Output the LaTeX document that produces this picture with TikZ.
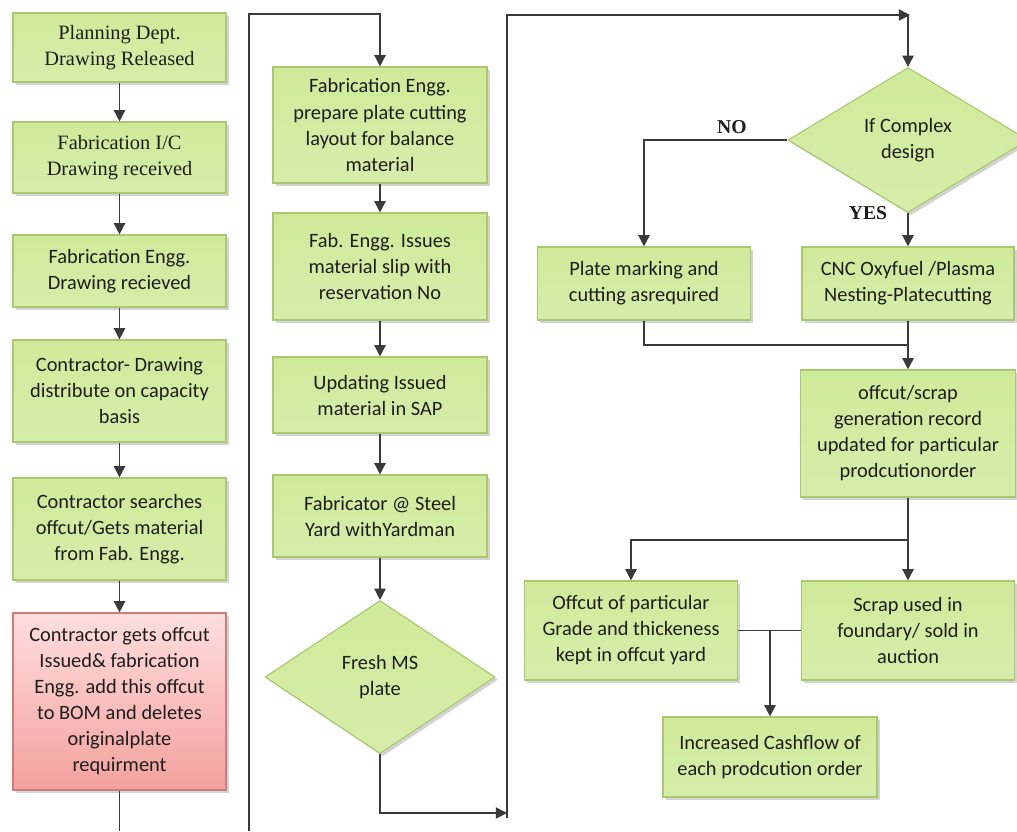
\documentclass[tikz,border=0pt]{standalone}
\usepackage{fontspec}
\setmainfont{Carlito}
\newfontfamily\serifrm{Liberation Serif}
\usetikzlibrary{arrows.meta,shapes.geometric,shadows}
\definecolor{gtop}{HTML}{D0EA9A}
\definecolor{gmid}{HTML}{EAF7D4}
\definecolor{gbot}{HTML}{D6EDAA}
\definecolor{gline}{HTML}{A8C970}
\definecolor{rtop}{HTML}{FFDEDE}
\definecolor{rbot}{HTML}{F3A19D}
\definecolor{rline}{HTML}{D27A76}
\definecolor{wire}{HTML}{3A3A3A}
\definecolor{ink}{HTML}{1E1E1E}
\begin{document}
\begin{tikzpicture}[x=0.025cm,y=-0.025cm,>={Triangle[width=8pt,length=8pt]},
  box/.style={draw=gline,line width=0.8pt,top color=gtop,middle color=gmid,bottom color=gbot,
    drop shadow={opacity=0.35,shadow xshift=2pt,shadow yshift=-2pt},
    text=ink,align=center,inner sep=1pt,font=\fontsize{14.5}{18.5}\selectfont},
  redbox/.style={box,draw=rline,top color=rtop,middle color=rtop!60!rbot,bottom color=rbot},
  dia/.style={box,diamond,inner sep=0pt},
  lbl/.style={font=\serifrm\bfseries\fontsize{14}{16}\selectfont,text=ink},
  wires/.style={draw=wire,line width=1.1pt}]
   \useasboundingbox (0,0) rectangle (1017,831);

   % 左列
   \node[box,minimum width=5.325cm,minimum height=1.725cm,font=\serifrm\fontsize{14.5}{18.5}\selectfont] (L1) at (119.5,47.5) {Planning Dept.\\Drawing Released};
   \node[box,minimum width=5.325cm,minimum height=1.775cm,font=\serifrm\fontsize{14.5}{18.5}\selectfont] (L2) at (119.5,157.5) {Fabrication I/C\\Drawing received};
   \node[box,minimum width=5.325cm,minimum height=1.8cm] (L3) at (119.5,271) {Fabrication Engg.\\Drawing recieved};
   \node[box,minimum width=5.325cm,minimum height=2.55cm] (L4) at (119.5,391) {Contractor- Drawing\\distribute on capacity\\basis};
   \node[box,minimum width=5.325cm,minimum height=2.55cm] (L5) at (119.5,529) {Contractor searches\\offcut/Gets material\\from Fab. Engg.};
   \node[redbox,minimum width=5.325cm,minimum height=4.425cm] (L6) at (119.5,701.5) {Contractor gets offcut\\Issued\& fabrication\\Engg. add this offcut\\to BOM and deletes\\originalplate\\requirment};

   % 中列
   \node[box,minimum width=5.35cm,minimum height=2.9cm] (M1) at (380,125) {Fabrication Engg.\\prepare plate cutting\\layout for balance\\material};
   \node[box,minimum width=5.35cm,minimum height=2.675cm] (M2) at (380,266.5) {Fab. Engg. Issues\\material slip with\\reservation No};
   \node[box,minimum width=5.35cm,minimum height=1.9cm] (M3) at (380,395) {Updating Issued\\material in SAP};
   \node[box,minimum width=5.35cm,minimum height=2.05cm] (M4) at (380,516) {Fabricator @ Steel\\Yard withYardman};
   \node[dia,minimum width=5.75cm,minimum height=3.825cm] (D1) at (380,677) {Fresh MS\\plate};

   % 右列
   \node[dia,minimum width=6cm,minimum height=3.625cm] (D2) at (908,140) {If Complex\\design};
   \node[box,minimum width=5.325cm,minimum height=1.825cm] (R1) at (644,283.5) {Plate marking and\\cutting asrequired};
   \node[box,minimum width=5.3cm,minimum height=1.825cm] (R2) at (908,283.5) {CNC Oxyfuel /Plasma\\Nesting-Platecutting};
   \node[box,minimum width=5.375cm,minimum height=3.175cm] (R3) at (908,433.5) {offcut/scrap\\generation record\\updated for particular\\prodcutionorder};
   \node[box,minimum width=5.325cm,minimum height=2.475cm] (R4) at (631,630.5) {Offcut of particular\\Grade and thickeness\\kept in offcut yard};
   \node[box,minimum width=5.325cm,minimum height=2.475cm] (R5) at (908,630.5) {Scrap used in\\foundary/ sold in\\auction};
   \node[box,minimum width=5.35cm,minimum height=2cm] (R6) at (770,757) {Increased Cashflow of\\each prodcution order};

   \node[lbl] (no) at (732,127) {NO};
   \node[lbl] (yes) at (868,213) {YES};

   % 補助点
   \coordinate (lbot) at (119.5,831);
   \coordinate (ab) at (249,831);
   \coordinate (at) at (249,14);
   \coordinate (bb) at (507,813);
   \coordinate (bt) at (507,15);
   \coordinate (tc) at (910,15);
   \coordinate (j1) at (908,345);
   \coordinate (j2) at (908,540);

   % 接続線
   \foreach \a/\b in {L1/L2,L2/L3,L3/L4,L4/L5,L5/L6,M1/M2,M2/M3,M3/M4,M4/D1}
     \draw[wires,->] (\a) -- (\b);
   \draw[wires] (L6) -- (lbot);
   \draw[wires,->] (ab) -- (at) -| (M1);
   \draw[wires,->] (D1) |- (bb);
   \draw[wires,->] ([yshift=-0.12cm]bb) -- (bt) -- (tc);
   \draw[wires,->] (D2.north |- tc) -- (D2);
   \draw[wires,->] (D2.west) -| (R1);
   \draw[wires,->] (D2) -- (R2);
   \draw[wires] (R1) |- (j1);
   \draw[wires,->] (R2) -- (R3);
   \draw[wires,->] (R3) -- (R5);
   \draw[wires,->] (j2) -| (R4);
   \draw[wires] (R4.east) -- (R5.west);
   \draw[wires,->] (R4.east -| R6) -- (R6);
\end{tikzpicture}
\end{document}
